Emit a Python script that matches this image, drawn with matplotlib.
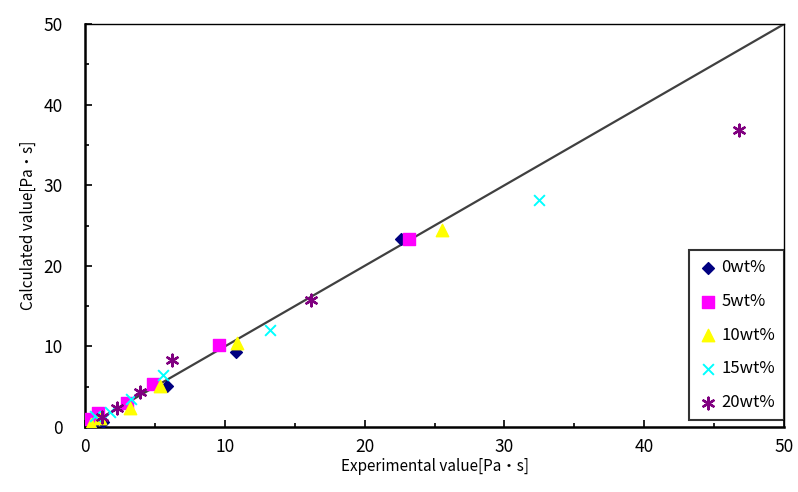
import numpy as np
import matplotlib.pyplot as plt
from matplotlib.ticker import MultipleLocator

plt.rcParams['font.family'] = ['Noto Sans CJK JP', 'DejaVu Sans']

# experimental vs calculated viscosity [Pa・s]
exp_0 = [0.5, 1.3, 3.0, 5.9, 10.8, 22.6]
calc_0 = [0.3, 0.6, 2.8, 5.1, 9.3, 23.3]
exp_5 = [0.3, 0.9, 3.0, 4.9, 9.6, 23.2]
calc_5 = [1.0, 1.7, 3.0, 5.3, 10.2, 23.3]
exp_10 = [0.4, 1.1, 3.2, 5.4, 10.9, 25.5]
calc_10 = [0.4, 1.1, 2.4, 5.1, 10.4, 24.4]
exp_15 = [0.7, 1.8, 3.3, 5.6, 13.2, 32.5]
calc_15 = [1.4, 1.9, 3.5, 6.4, 12.1, 28.2]
exp_20 = [1.2, 2.3, 3.9, 6.2, 16.2, 46.8]
calc_20 = [1.2, 2.4, 4.4, 8.3, 15.8, 36.8]
labels = ['0wt%', '5wt%', '10wt%', '15wt%', '20wt%']
diag = [0, 50]

fig = plt.figure(figsize=(7.98, 4.92), dpi=100)
ax = fig.add_axes([0.1065, 0.132, 0.876, 0.819])

ax.plot(diag, diag, color='#404040', lw=1.6, zorder=1)

ax.scatter(exp_0, calc_0, marker='D', s=36, color='#000080', label=labels[0], zorder=3)
ax.scatter(exp_5, calc_5, marker='s', s=75, color='#FF00FF', label=labels[1], zorder=3)
ax.scatter(exp_10, calc_10, marker='^', s=80, color='#FFFF00', label=labels[2], zorder=3)
ax.scatter(exp_15, calc_15, marker='x', s=60, color='#00FFFF', lw=1.4, label=labels[3], zorder=3)
ax.scatter(exp_20, calc_20, marker=(6, 2, 0), s=70, color='#800080', lw=1.7, label=labels[4], zorder=3)

ax.set_xlim(0, 50)
ax.set_ylim(0, 50)
ax.xaxis.set_major_locator(MultipleLocator(10))
ax.yaxis.set_major_locator(MultipleLocator(10))
ax.xaxis.set_minor_locator(MultipleLocator(5))
ax.yaxis.set_minor_locator(MultipleLocator(5))
ax.tick_params(which='both', direction='in', width=1.2, labelsize=12.5, colors='black')
ax.tick_params(which='major', length=5)
ax.tick_params(which='minor', length=3)
ax.tick_params(axis='x', pad=8)
ax.tick_params(axis='y', pad=16)

for side in ['left', 'bottom']:
    ax.spines[side].set_linewidth(1.8)
for side in ['top', 'right']:
    ax.spines[side].set_linewidth(1.0)

ax.set_xlabel('Experimental value[Pa・s]', fontsize=11, labelpad=1)
ax.set_ylabel('Calculated value[Pa・s]', fontsize=11, labelpad=5)

leg = ax.legend(loc='lower right', bbox_to_anchor=(1.0, 0.017), borderaxespad=0,
                fontsize=12, frameon=True, fancybox=False, edgecolor='black',
                handletextpad=0.2, labelspacing=1.0, borderpad=0.55, handlelength=1.2)
leg.get_frame().set_linewidth(1.5)

fig.savefig('out.png', dpi=100)
